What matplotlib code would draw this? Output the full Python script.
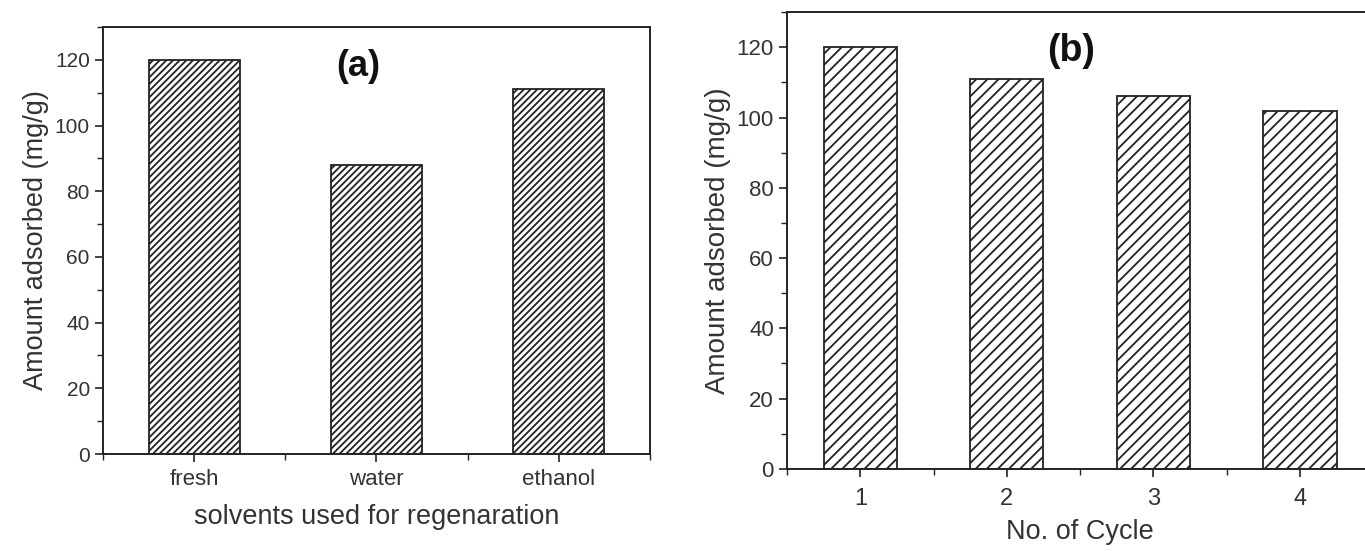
import matplotlib
matplotlib.use("Agg")
import matplotlib.pyplot as plt
from matplotlib.ticker import MultipleLocator

plt.rcParams["font.family"] = ["Liberation Sans", "DejaVu Sans"]
plt.rcParams["hatch.linewidth"] = 1.3
plt.rcParams["hatch.color"] = "#333333"

# (a) 再生溶剂
SOLVENTS = ["fresh", "water", "ethanol"]
SOLVENT_AMOUNT = [120, 88, 111]

# (b) 循环次数
CYCLES = [1, 2, 3, 4]
CYCLE_AMOUNT = [120, 111, 106, 102]

YLABEL = "Amount adsorbed (mg/g)"
TXT = "#333333"


def style_axes(ax, ysize, xsize, lsize, xpad):
    ax.set_ylim(0, 130)
    ax.yaxis.set_major_locator(MultipleLocator(20))
    ax.yaxis.set_minor_locator(MultipleLocator(10))
    ax.xaxis.set_minor_locator(MultipleLocator(0.5))
    ax.tick_params(which="both", direction="out", colors="#222222",
                   labelcolor=TXT)
    ax.tick_params(axis="y", labelsize=ysize)
    ax.tick_params(axis="x", labelsize=xsize, pad=xpad)
    ax.tick_params(which="major", length=6, width=1.2)
    ax.tick_params(which="minor", length=4, width=1.0)
    for sp in ax.spines.values():
        sp.set_linewidth(1.4)
        sp.set_color("#222222")
    ax.set_ylabel(YLABEL, fontsize=lsize, color=TXT, labelpad=4)


fig = plt.figure(figsize=(13.65, 5.51), dpi=100)

# ============ (a) ============
ax1 = fig.add_axes([0.0755, 0.176, 0.4005, 0.775])
xa = list(range(len(SOLVENTS)))
ax1.bar(xa, SOLVENT_AMOUNT, width=0.5, color="white", edgecolor="#222222",
        linewidth=1.3, hatch="/////")
ax1.set_xlim(-0.5, 2.5)
ax1.set_xticks(xa)
ax1.set_xticklabels(SOLVENTS)
style_axes(ax1, 15, 16, 19.5, 5)
ax1.set_xlabel("solvents used for regenaration", fontsize=19.5, color=TXT,
               labelpad=10)
ax1.text(0.9, 118, "(a)", fontsize=26, fontweight="bold", ha="center",
         va="center", color="#111111")

# ============ (b) ============
ax2 = fig.add_axes([0.5766, 0.149, 0.4294, 0.829])
ax2.bar(CYCLES, CYCLE_AMOUNT, width=0.5, color="white", edgecolor="#222222",
        linewidth=1.3, hatch="///")
ax2.set_xlim(0.5, 4.5)
ax2.set_xticks(CYCLES)
style_axes(ax2, 16, 17, 20, 8)
ax2.set_xlabel("No. of Cycle", fontsize=19.5, color=TXT, labelpad=6)
ax2.text(2.44, 119, "(b)", fontsize=27, fontweight="bold", ha="center",
         va="center", color="#111111")

fig.savefig("out.png", dpi=100)
